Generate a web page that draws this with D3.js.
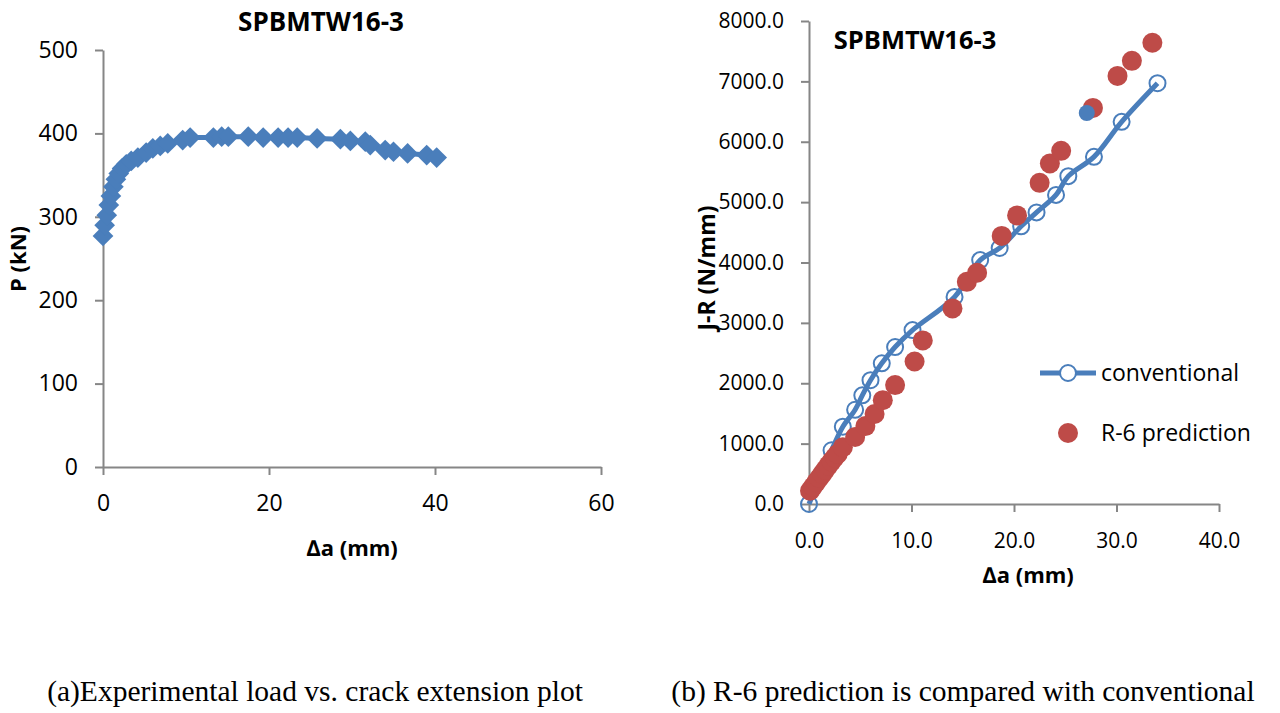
<!doctype html>
<html>
<head>
<script src="https://cdnjs.cloudflare.com/ajax/libs/d3/7.8.5/d3.min.js"></script>
<style>
  body { margin: 0; background: #fff; }
  text { font-family: "Open Sans", sans-serif; fill: #000; }
  .axis path, .axis line { stroke: #868686; stroke-width: 2; }
  .axis text { font-size: 21px; }
  .left .axis text { font-size: 23px; }
  .ttl, .lab { font-weight: bold; }
  .cap { font-family: "Liberation Serif", serif; font-size: 29.5px; }
</style>
</head>
<body>
<svg id="fig" width="1280" height="713"></svg>
<script>
// (a) load vs crack extension
const loadDa = [0, 0.2, 0.45, 0.7, 0.95, 1.25, 1.55, 1.9, 2.3, 2.8, 3.4, 4.2, 5.2, 6.0, 6.9, 7.8, 9.6, 10.5,
  13.3, 14.3, 15.1, 17.5, 19.3, 21.1, 22.3, 23.4, 25.8, 28.6, 29.8, 31.6, 32.2, 34.0, 35.0, 36.7, 39.0, 40.2];
const loadP = [277, 290, 302, 314, 325, 336, 345, 352, 358, 363, 367, 371, 377, 382, 385, 388, 392, 395,
  395, 396, 396, 396, 395, 395, 395, 395, 394, 393, 391, 390, 386, 380, 378, 376, 374, 371];
const loadXTicks = [0, 20, 40, 60];
const loadYTicks = [0, 100, 200, 300, 400, 500];

// (b) J-R curves
const convDa = [0, 2.2, 3.3, 4.5, 5.2, 6.0, 7.1, 8.4, 10.1, 14.2, 16.7, 18.6, 20.7, 22.2, 24.1, 25.3, 27.8, 30.5, 34.0];
const convJ = [0, 890, 1280, 1560, 1800, 2050, 2330, 2600, 2880, 3430, 4040, 4240, 4600, 4830, 5120, 5430, 5750, 6330, 6970];
const r6Da = [0.1, 0.4, 0.7, 1.0, 1.3, 1.6, 1.9, 2.2, 2.5, 2.8, 3.3, 4.5, 5.5, 6.4, 7.2, 8.4, 10.3, 11.1,
  14.0, 15.4, 16.4, 18.8, 20.3, 22.5, 23.5, 24.6, 27.7, 30.1, 31.5, 33.5];
const r6J = [220, 290, 360, 430, 500, 570, 640, 705, 770, 830, 940, 1110, 1290, 1490, 1720, 1970, 2360, 2710,
  3240, 3680, 3830, 4440, 4780, 5320, 5640, 5850, 6560, 7090, 7340, 7640];
const extraDa = [27.1];
const extraJ = [6476];
const jrXTicks = [0, 10, 20, 30, 40];
const jrYTicks = [0, 1000, 2000, 3000, 4000, 5000, 6000, 7000, 8000];

const blue = "#4A7EBB", red = "#BE4B48";
const svg = d3.select("#fig");

// ---------- left chart ----------
const left = svg.append("g").attr("class", "left");
const xa = d3.scaleLinear().domain([0, 60]).range([103, 601]);
const ya = d3.scaleLinear().domain([0, 500]).range([467, 50]);

left.append("g").attr("class", "axis").attr("transform", "translate(0,467)")
  .call(d3.axisBottom(xa).tickValues(loadXTicks).tickSize(8).tickSizeOuter(0).tickPadding(20).tickFormat(d3.format("d")));
left.append("g").attr("class", "axis").attr("transform", "translate(103,0)")
  .call(d3.axisLeft(ya).tickValues(loadYTicks).tickSize(8).tickSizeOuter(0).tickPadding(17).tickFormat(d3.format("d")));

const loadPts = loadDa.map((d, i) => [d, loadP[i]]);
left.append("path").datum(loadPts)
  .attr("fill", "none").attr("stroke", blue).attr("stroke-width", 5)
  .attr("d", d3.line().x(d => xa(d[0])).y(d => ya(d[1])));
left.append("g").selectAll("path").data(loadPts).enter().append("path")
  .attr("d", d3.symbol(d3.symbolSquare, 215))
  .attr("transform", d => `translate(${xa(d[0])},${ya(d[1])}) rotate(45)`)
  .attr("fill", blue);

left.append("text").attr("class", "ttl").attr("x", 321).attr("y", 31).attr("text-anchor", "middle")
  .style("font-size", "26px").text("SPBMTW16-3");
left.append("text").attr("class", "lab").attr("transform", "translate(26,259) rotate(-90)")
  .attr("text-anchor", "middle").style("font-size", "22px").text("P (kN)");
left.append("text").attr("class", "lab").attr("x", 352).attr("y", 556).attr("text-anchor", "middle")
  .style("font-size", "22px").text("∆a (mm)");

// ---------- right chart ----------
const xb = d3.scaleLinear().domain([0, 40]).range([809, 1219]);
const yb = d3.scaleLinear().domain([0, 8000]).range([504, 21]);

svg.append("g").attr("class", "axis").attr("transform", "translate(0,504)")
  .call(d3.axisBottom(xb).tickValues(jrXTicks).tickSize(8).tickSizeOuter(0).tickPadding(21).tickFormat(d3.format(".1f")));
svg.append("g").attr("class", "axis").attr("transform", "translate(809,0)")
  .call(d3.axisLeft(yb).tickValues(jrYTicks).tickSize(8).tickSizeOuter(0).tickPadding(17).tickFormat(d3.format(".1f")));

const convPts = convDa.map((d, i) => [d, convJ[i]]);
svg.append("path").datum(convPts)
  .attr("fill", "none").attr("stroke", blue).attr("stroke-width", 5)
  .attr("d", d3.line().curve(d3.curveCatmullRom.alpha(0.5)).x(d => xb(d[0])).y(d => yb(d[1])));
svg.append("g").selectAll("circle").data(convPts).enter().append("circle")
  .attr("cx", d => xb(d[0])).attr("cy", d => yb(d[1])).attr("r", 8)
  .attr("fill", "none").attr("stroke", blue).attr("stroke-width", 2);

svg.append("g").selectAll("circle").data(r6Da.map((d, i) => [d, r6J[i]])).enter().append("circle")
  .attr("cx", d => xb(d[0])).attr("cy", d => yb(d[1])).attr("r", 10).attr("fill", red);
svg.append("g").selectAll("circle").data(extraDa.map((d, i) => [d, extraJ[i]])).enter().append("circle")
  .attr("cx", d => xb(d[0])).attr("cy", d => yb(d[1])).attr("r", 8).attr("fill", blue);

svg.append("text").attr("class", "ttl").attr("x", 915).attr("y", 49).attr("text-anchor", "middle")
  .style("font-size", "25.5px").text("SPBMTW16-3");
svg.append("text").attr("class", "lab").attr("transform", "translate(715,268) rotate(-90)")
  .attr("text-anchor", "middle").style("font-size", "23px").text("J-R (N/mm)");
svg.append("text").attr("class", "lab").attr("x", 1028).attr("y", 583).attr("text-anchor", "middle")
  .style("font-size", "22px").text("∆a (mm)");

// legend
const lg = svg.append("g");
lg.append("line").attr("x1", 1040).attr("x2", 1096).attr("y1", 373).attr("y2", 373)
  .attr("stroke", blue).attr("stroke-width", 5);
lg.append("circle").attr("cx", 1068).attr("cy", 373).attr("r", 8)
  .attr("fill", "#fff").attr("stroke", blue).attr("stroke-width", 2);
lg.append("text").attr("x", 1101).attr("y", 381).style("font-size", "23px").text("conventional");
lg.append("circle").attr("cx", 1068).attr("cy", 433).attr("r", 10).attr("fill", red);
lg.append("text").attr("x", 1101).attr("y", 441).style("font-size", "23px").text("R-6 prediction");

// captions
svg.append("text").attr("class", "cap").attr("x", 315).attr("y", 701).attr("text-anchor", "middle")
  .text("(a)Experimental load vs. crack extension plot");
svg.append("text").attr("class", "cap").attr("x", 963).attr("y", 701).attr("text-anchor", "middle")
  .text("(b) R-6 prediction is compared with conventional");
</script>
</body>
</html>
